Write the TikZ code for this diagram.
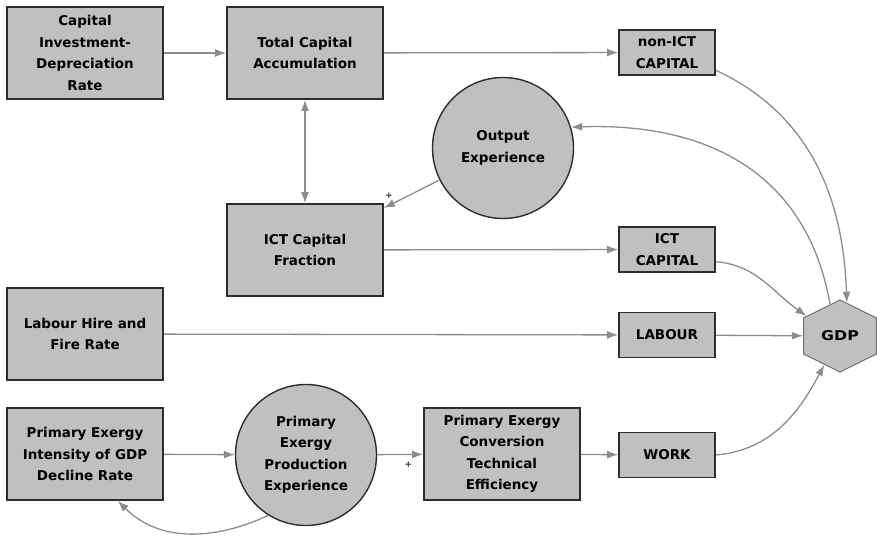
\documentclass[tikz,border=0pt]{standalone}
\usepackage{fontspec}
\setmainfont{DejaVu Sans}
\usepackage{tikz}
\usetikzlibrary{arrows.meta,shapes.geometric}
\definecolor{boxgray}{RGB}{192,192,192}
\definecolor{linkgray}{RGB}{140,140,140}
\definecolor{edgegray}{RGB}{45,45,45}

\begin{document}
\begin{tikzpicture}[x=1pt,y=1pt,
		block/.style={draw=edgegray, line width=1.8pt, fill=boxgray, minimum width=156pt, minimum height=92pt, align=center, inner sep=2pt, font=\fontsize{13.5}{21.5}\selectfont\bfseries},
		small/.style={block, minimum width=96pt, minimum height=45pt},
		bubble/.style={circle, draw=edgegray, line width=1.4pt, fill=boxgray, minimum size=141pt, inner sep=0pt, align=center, font=\fontsize{13.5}{21.5}\selectfont\bfseries},
		hexa/.style={regular polygon, regular polygon sides=6, shape border rotate=30, draw=linkgray!80!black, line width=1pt, fill=boxgray, minimum size=72pt, inner sep=1pt, font=\fontsize{13.5}{16}\selectfont\bfseries},
		link/.style={draw=linkgray, line width=1.3pt, -{Latex[length=11pt,width=8pt]}},
		sign/.style={font=\fontsize{9}{9}\selectfont\bfseries, text=edgegray, inner sep=1pt}]
			\useasboundingbox (0,0) rectangle (877,537);
			\node[block] (rate) at (85,484) {Capital\\Investment-\\Depreciation\\Rate};
			\node[block] (total) at (305,484) {Total Capital\\Accumulation};
			\node[small] (nonict) at (667,484.5) {non-ICT\\CAPITAL};
			\node[bubble] (outexp) at (503,389) {Output\\Experience};
			\node[block] (fraction) at (305,287) {ICT Capital\\Fraction};
			\node[small] (ictcap) at (667,287.5) {ICT\\CAPITAL};
			\node[block] (labrate) at (85,203) {Labour Hire and\\Fire Rate};
			\node[small] (labour) at (667,202) {LABOUR};
			\node[hexa, xscale=1.17] (gdp) at (840,201) {GDP};
			\node[block] (intensity) at (85,83) {Primary Exergy\\Intensity of GDP\\Decline Rate};
			\node[bubble] (prodexp) at (306,82) {Primary\\Exergy\\Production\\Experience};
			\node[block] (conv) at (502,83) {Primary Exergy\\Conversion\\Technical\\Efficiency};
			\node[small] (work) at (667,82) {WORK};

			\draw[link] (rate) -- (total);
			\draw[link] (total) -- (nonict);
			\draw[link, {Latex[length=11pt,width=8pt]}-{Latex[length=11pt,width=8pt]}] (total) -- (fraction);
			\draw[link] (outexp) -- (fraction.28) node[sign, pos=1, above=8pt, xshift=5pt] {+};
			\draw[link] (fraction) -- (ictcap);
			\draw[link] (labrate) -- (labour);
			\draw[link] (labour) -- (gdp);
			\draw[link] (intensity) -- (prodexp);
			\draw[link] (prodexp) -- (conv) node[sign, pos=0.68, below=6pt] {+};
			\draw[link] (conv) -- (work);
			\draw[link] (nonict.-20) to[out=-25, in=92] (gdp.80);
			\draw[link] (gdp.105) to[out=100, in=2, looseness=1.1] (outexp.17);
			\draw[link] (ictcap.-14) to[out=-5, in=145] (gdp.145);
			\draw[link] (work.east) to[out=5, in=-118] (gdp.-115);
			\draw[link] (prodexp.-122) to[out=-155, in=-45] (intensity.-55);
		\end{tikzpicture}
\end{document}
